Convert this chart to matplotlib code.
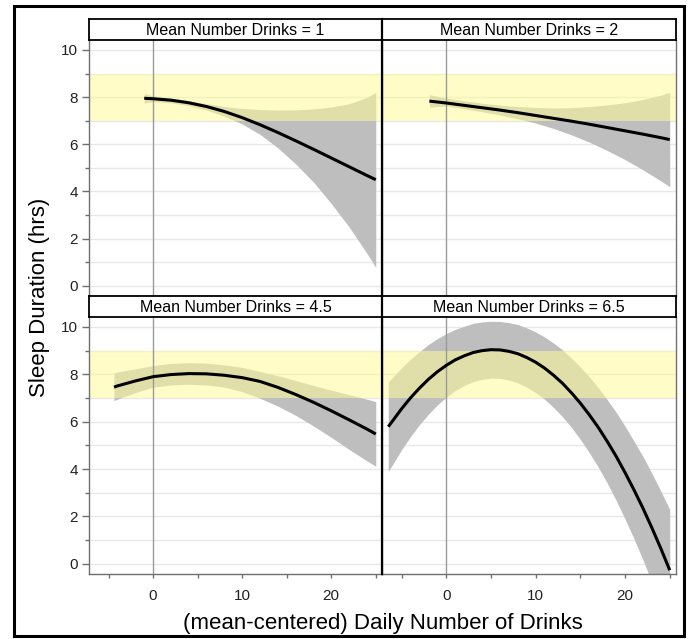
import matplotlib.pyplot as plt
from matplotlib.lines import Line2D
from matplotlib.patches import Rectangle
from matplotlib.ticker import MultipleLocator

plt.rcParams['font.family'] = ['Liberation Sans', 'DejaVu Sans']

# ---------------------------------------------------------------- data
titles = ["Mean Number Drinks = 1", "Mean Number Drinks = 2",
          "Mean Number Drinks = 4.5", "Mean Number Drinks = 6.5"]

x1 = [-1, 0, 2, 4, 6, 8, 10, 12, 14, 16, 18, 20, 22, 24, 25]
fit1 = [7.95, 7.93, 7.87, 7.76, 7.60, 7.39, 7.13, 6.83, 6.50, 6.15, 5.79, 5.42, 5.05, 4.68, 4.50]
hi1 = [8.15, 8.05, 7.96, 7.85, 7.72, 7.60, 7.52, 7.47, 7.45, 7.46, 7.50, 7.58, 7.72, 7.98, 8.20]
lo1 = [7.75, 7.81, 7.76, 7.64, 7.45, 7.19, 6.86, 6.42, 5.85, 5.17, 4.40, 3.49, 2.50, 1.38, 0.78]

x2 = [-1.9, 0, 2, 4, 6, 8, 10, 12, 14, 16, 18, 20, 22, 24, 25]
fit2 = [7.83, 7.75, 7.65, 7.55, 7.45, 7.34, 7.22, 7.10, 6.98, 6.85, 6.71, 6.57, 6.43, 6.28, 6.20]
hi2 = [8.10, 7.96, 7.84, 7.74, 7.66, 7.60, 7.56, 7.54, 7.55, 7.60, 7.67, 7.76, 7.90, 8.08, 8.20]
lo2 = [7.57, 7.63, 7.50, 7.38, 7.24, 7.08, 6.90, 6.67, 6.40, 6.09, 5.74, 5.35, 4.92, 4.45, 4.20]

x3 = [-4.4, -4, -2, 0, 2, 4, 6, 8, 10, 12, 14, 16, 18, 20, 22, 24, 25]
fit3 = [7.46, 7.51, 7.72, 7.90, 7.99, 8.03, 8.02, 7.96, 7.86, 7.70, 7.45, 7.15, 6.82, 6.46, 6.08, 5.69, 5.48]
hi3 = [8.05, 8.10, 8.23, 8.37, 8.46, 8.49, 8.47, 8.40, 8.29, 8.12, 7.94, 7.74, 7.53, 7.33, 7.14, 6.95, 6.85]
lo3 = [6.89, 6.95, 7.23, 7.46, 7.55, 7.58, 7.55, 7.46, 7.27, 6.99, 6.66, 6.27, 5.82, 5.34, 4.83, 4.35, 4.12]

x4 = [-6.5, -6, -5, -4, -3, -2, -1, 0, 1, 2, 3, 4, 5, 6, 7, 8, 9, 10, 11, 12,
      13, 14, 15, 16, 17, 18, 19, 20, 21, 22, 23, 24, 25]
fit4 = [5.79, 6.04, 6.55, 7.01, 7.42, 7.79, 8.11, 8.38, 8.61, 8.78, 8.92, 9.00, 9.04,
        9.03, 8.97, 8.87, 8.71, 8.51, 8.26, 7.96, 7.62, 7.22, 6.78, 6.29, 5.76, 5.17,
        4.54, 3.85, 3.12, 2.35, 1.52, 0.65, -0.27]
hi4 = [7.68, 7.88, 8.28, 8.64, 8.96, 9.26, 9.51, 9.72, 9.90, 10.03, 10.15, 10.21, 10.24,
       10.23, 10.18, 10.10, 9.96, 9.79, 9.57, 9.32, 9.03, 8.68, 8.31, 7.89, 7.44, 6.93,
       6.40, 5.81, 5.18, 4.53, 3.82, 3.07, 2.29]
lo4 = [3.90, 4.20, 4.82, 5.38, 5.88, 6.32, 6.71, 7.04, 7.32, 7.53, 7.69, 7.79, 7.84,
       7.83, 7.76, 7.64, 7.46, 7.23, 6.95, 6.60, 6.21, 5.76, 5.25, 4.69, 4.08, 3.41,
       2.68, 1.89, 1.06, 0.17, -0.78, -1.77, -2.83]

healthy_lo, healthy_hi = 7, 9

# ---------------------------------------------------------------- layout
W, H = 694, 639


def box(x0, y0, x1, y1):
    # pixel box (from top-left) -> figure fraction
    return [x0 / W, 1 - y1 / H, (x1 - x0) / W, (y1 - y0) / H]


fig = plt.figure(figsize=(W / 100, H / 100), dpi=100)

cols = [(89, 382), (382, 676)]
rows = [(40, 296), (317, 574)]
strips = [(19, 40), (296, 317)]
series = [(x1, fit1, lo1, hi1), (x2, fit2, lo2, hi2),
          (x3, fit3, lo3, hi3), (x4, fit4, lo4, hi4)]
axis_grey = "#707070"

for i, (xs, fit, lo, hi) in enumerate(series):
    r, c = divmod(i, 2)
    ax = fig.add_axes(box(cols[c][0], rows[r][0], cols[c][1], rows[r][1]))

    ax.fill_between(xs, lo, hi, color="#bebebe", lw=0, zorder=1.5)
    ax.axhspan(healthy_lo, healthy_hi, color="#fffb99", alpha=0.55, lw=0, zorder=2)
    ax.axvline(0, color="#9a9a9a", lw=1, zorder=3)
    ax.plot(xs, fit, color="black", lw=2.2, zorder=4, solid_capstyle="butt")

    ax.set_xlim(-7.2, 25.7)
    ax.set_ylim(-0.43, 10.42)
    ax.xaxis.set_major_locator(MultipleLocator(10))
    ax.xaxis.set_minor_locator(MultipleLocator(5))
    ax.yaxis.set_major_locator(MultipleLocator(2))
    ax.yaxis.set_minor_locator(MultipleLocator(1))
    ax.grid(which="both", axis="y", color="#e8e8e8", lw=1)
    ax.set_axisbelow(True)

    for s in ax.spines.values():
        s.set_color(axis_grey)
        s.set_linewidth(1)
    ax.spines["top"].set_visible(False)

    ax.tick_params(which="both", direction="out", color=axis_grey, width=1,
                   labelsize=11, labelcolor="#222222")
    ax.tick_params(axis="y", which="major", length=5, pad=3)
    ax.tick_params(axis="y", which="minor", length=3)
    ax.tick_params(axis="x", which="both", length=3, pad=8)

    if r == 0:
        ax.tick_params(axis="x", which="both", bottom=False, labelbottom=False)
    if c == 1:
        ax.tick_params(axis="y", which="both", left=False, labelleft=False)

    # strip title
    st = fig.add_axes(box(cols[c][0], strips[r][0], cols[c][1], strips[r][1]))
    st.set_xticks([])
    st.set_yticks([])
    for s in st.spines.values():
        s.set_color("black")
        s.set_linewidth(1.3)
    st.text(0.5, 0.45, titles[i], ha="center", va="center", fontsize=11.5,
            transform=st.transAxes)

# black divider between the two columns
fig.add_artist(Line2D([382 / W, 382 / W], [1 - 19 / H, 1 - 574 / H],
                      color="black", lw=1.6))

fig.text(40 / W, 1 - 297 / H, "Sleep Duration (hrs)", rotation=90,
         ha="center", va="center", fontsize=16)
fig.text(383 / W, 1 - 623 / H, "(mean-centered) Daily Number of Drinks",
         ha="center", va="center", fontsize=16)

# outer frame
fig.add_artist(Rectangle((14 / W, 1 - 636 / H), 670 / W, 630 / H,
                         fill=False, ec="black", lw=2.2,
                         transform=fig.transFigure))

fig.savefig("out.png", dpi=100)
